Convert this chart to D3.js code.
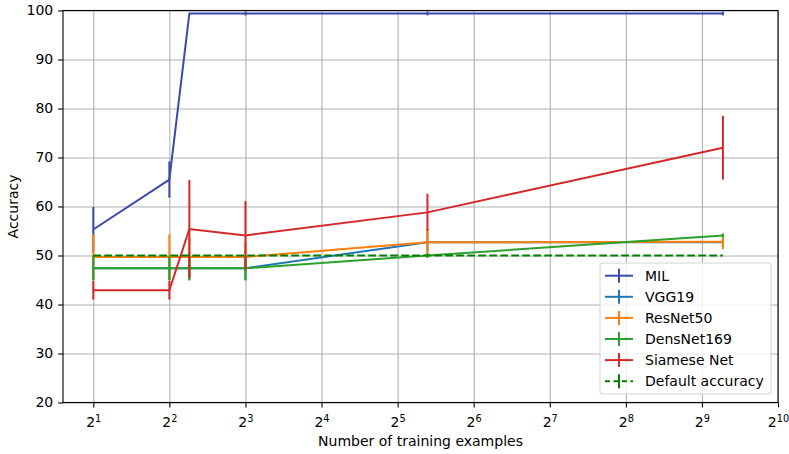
<!DOCTYPE html>
<html>
<head>
<meta charset="utf-8">
<script src="https://cdn.jsdelivr.net/npm/d3@7"></script>
<style>
	body { margin: 0; background: #fff; }
	text { font-family: "DejaVu Sans", sans-serif; fill: #000; }
</style>
</head>
<body>
<svg id="chart" width="789" height="454"></svg>
<script>
// number of training examples (x) for every series
var xExamples = [2, 4, 4.8, 8, 42, 620];

var seriesNames = ["MIL", "VGG19", "ResNet50", "DensNet169", "Siamese Net", "Default accuracy"];

// mean accuracy and error bar half-length per series
var milAcc      = [55.3, 65.5, 99.4, 99.4, 99.4, 99.4];
var milErr      = [4.6, 3.7, 0, 0.4, 0.4, 0.4];
var vggAcc      = [47.4, 47.4, 47.4, 47.4, 52.7, 52.7];
var vggErr      = [2.4, 2.4, 2.4, 2.4, 2.0, 1.0];
var resnetAcc   = [49.7, 49.7, 49.7, 49.7, 52.7, 52.8];
var resnetErr   = [4.6, 4.6, 4.0, 3.0, 2.7, 1.5];
var densenetAcc = [47.4, 47.4, 47.4, 47.4, 50.0, 54.1];
var densenetErr = [2.5, 2.5, 2.5, 2.5, 0.5, 0.4];
var siameseAcc  = [42.9, 42.9, 55.4, 54.1, 58.8, 72.0];
var siameseErr  = [1.9, 1.9, 10.0, 7.0, 3.8, 6.5];
var defaultAcc  = [50, 50, 50, 50, 50, 50];
var defaultErr  = [0, 0, 0, 0, 0, 0];

// axis ticks
var xTickPowers = [1, 2, 3, 4, 5, 6, 7, 8, 9, 10];
var yTicks = [20, 30, 40, 50, 60, 70, 80, 90, 100];

var seriesValues = [milAcc, vggAcc, resnetAcc, densenetAcc, siameseAcc, defaultAcc];
var seriesErrors = [milErr, vggErr, resnetErr, densenetErr, siameseErr, defaultErr];

// look of each series, same order as names
var seriesStyle = [
	{color: '#3a49aa', dash: null},
	{color: '#1f77b4', dash: null},
	{color: '#ff7f0e', dash: null},
	{color: '#2ca02c', dash: null},
	{color: '#d62728', dash: null},
	{color: '#008000', dash: '7.7,3.3'}
];

var margins = {top: 10.5, right: 11, bottom: 51.5, left: 63};
var svg = d3.select("#chart");
var width = +svg.attr('width') - margins.left - margins.right;
var height = +svg.attr('height') - margins.top - margins.bottom;

var g = svg.append('g')
	.attr('transform', 'translate(' + margins.left + ',' + margins.top + ')');

var x = d3.scaleLog().base(2)
	.domain([Math.pow(2, 0.602), Math.pow(2, 10)])
	.range([0, width]);
var y = d3.scaleLinear().domain([20, 100]).range([height, 0]);

var xTickVals = xTickPowers.map(function(p){ return Math.pow(2, p); });

// grid
function gridStyle(sel){
	sel.select('.domain').remove();
	sel.selectAll('.tick line')
		.attr('stroke', '#b0b0b0')
		.attr('stroke-width', 1.1);
}

g.append('g')
	.attr('transform', 'translate(0,' + height + ')')
	.call(d3.axisBottom(x).tickValues(xTickVals).tickSize(-height).tickFormat(''))
	.call(gridStyle);

g.append('g')
	.call(d3.axisLeft(y).tickValues(yTicks).tickSize(-width).tickFormat(''))
	.call(gridStyle);

// series
var line = d3.line()
	.x(function(d){ return x(d[0]); })
	.y(function(d){ return y(d[1]); });

seriesNames.forEach(function(name, si){
	var pts = xExamples.map(function(xv, i){
		return [xv, seriesValues[si][i], seriesErrors[si][i]];
	});
	var st = seriesStyle[si];
	var sg = g.append('g').attr('class', 'series');

	sg.append('path')
		.attr('d', line(pts))
		.attr('fill', 'none')
		.attr('stroke', st.color)
		.attr('stroke-width', 2)
		.attr('stroke-dasharray', st.dash);

	sg.selectAll('line.err')
		.data(pts.filter(function(d){ return d[2] > 0; }))
		.enter().append('line')
			.attr('class', 'err')
			.attr('x1', function(d){ return x(d[0]); })
			.attr('x2', function(d){ return x(d[0]); })
			.attr('y1', function(d){ return y(d[1] - d[2]); })
			.attr('y2', function(d){ return y(d[1] + d[2]); })
			.attr('stroke', st.color)
			.attr('stroke-width', 2);
});

// axes
var xaxis = g.append('g')
	.attr('transform', 'translate(0,' + height + ')')
	.call(d3.axisBottom(x).tickValues(xTickVals).tickSizeInner(4.9).tickSizeOuter(0).tickFormat(''));
xaxis.select('.domain').remove();
xaxis.selectAll('.tick line').attr('stroke', '#000').attr('stroke-width', 1.1);

// 2^n labels as base + superscript
xaxis.selectAll('.tick').each(function(d, i){
	var t = d3.select(this).append('text')
		.attr('y', 24.5)
		.attr('text-anchor', 'middle')
		.attr('font-size', 14)
		.attr('fill', '#000');
	t.append('tspan').text('2');
	t.append('tspan')
		.attr('dy', -5.5)
		.attr('font-size', 9.8)
		.text(xTickPowers[i]);
});

var yaxis = g.append('g')
	.call(d3.axisLeft(y).tickValues(yTicks).tickSizeInner(4.9).tickSizeOuter(0).tickPadding(4.9));
yaxis.select('.domain').remove();
yaxis.selectAll('.tick line').attr('stroke', '#000').attr('stroke-width', 1.1);
yaxis.selectAll('text')
	.attr('font-size', 14)
	.attr('font-family', '"DejaVu Sans", sans-serif')
	.attr('fill', '#000');

// frame
g.append('rect')
	.attr('width', width)
	.attr('height', height)
	.attr('fill', 'none')
	.attr('stroke', '#000')
	.attr('stroke-width', 1.1);

// axis labels
svg.append('text')
	.attr('x', margins.left + width / 2)
	.attr('y', 445.5)
	.attr('text-anchor', 'middle')
	.attr('font-size', 14)
	.text('Number of training examples');

svg.append('text')
	.attr('transform', 'translate(17.5,' + (margins.top + height / 2) + '),rotate(-90)')
	.attr('text-anchor', 'middle')
	.attr('font-size', 14)
	.text('Accuracy');

// legend
var legend = svg.append('g').attr('transform', 'translate(600,263)');
legend.append('rect')
	.attr('width', 171)
	.attr('height', 131)
	.attr('rx', 3)
	.attr('fill', '#fff')
	.attr('fill-opacity', 0.8)
	.attr('stroke', '#d6d6d6')
	.attr('stroke-width', 1.1);

var items = legend.selectAll('g.item')
	.data(seriesNames)
	.enter().append('g')
		.attr('class', 'item')
		.attr('transform', function(d, i){ return 'translate(0,' + (12.7 + i * 21.1) + ')'; });

items.append('line')
	.attr('x1', 5).attr('x2', 33)
	.attr('stroke', function(d, i){ return seriesStyle[i].color; })
	.attr('stroke-width', 2)
	.attr('stroke-dasharray', function(d, i){ return seriesStyle[i].dash ? '5,3.5' : null; });

items.append('line')
	.attr('x1', 19).attr('x2', 19)
	.attr('y1', -7).attr('y2', 7)
	.attr('stroke', function(d, i){ return seriesStyle[i].color; })
	.attr('stroke-width', 2);

items.append('text')
	.attr('x', 45)
	.attr('y', 5)
	.attr('font-size', 14)
	.text(function(d){ return d; });
</script>
</body>
</html>
